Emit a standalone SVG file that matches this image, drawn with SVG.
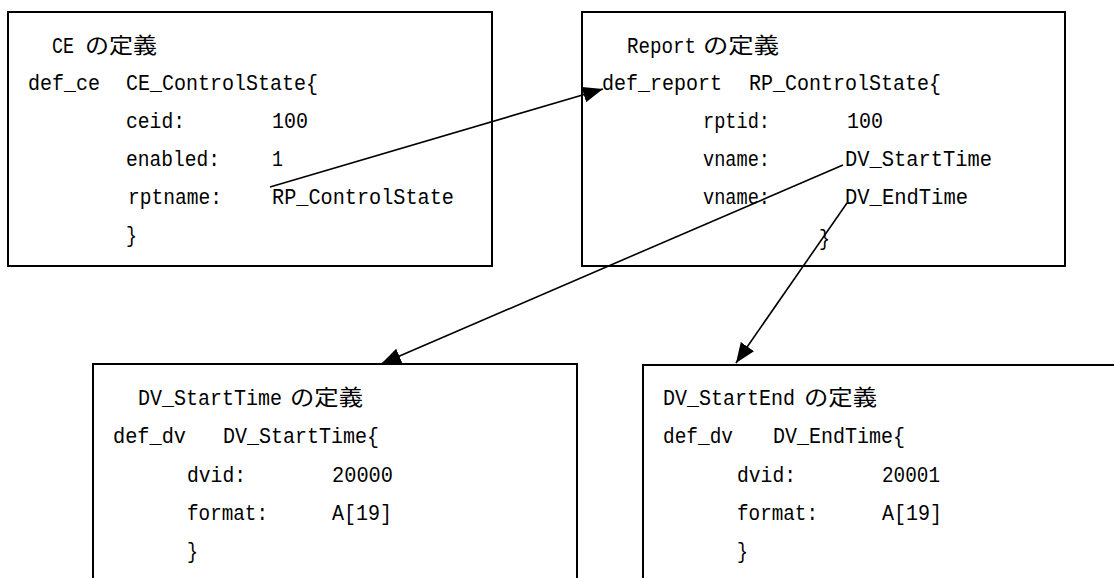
<svg xmlns="http://www.w3.org/2000/svg" width="1114" height="578" viewBox="0 0 1114 578">
<defs>
<style>
.box{fill:#fff;stroke:#000;stroke-width:2}
.t{font-family:"Liberation Mono","Noto Sans CJK JP",monospace;font-size:22px;fill:#000}
.j{font-family:"Noto Sans CJK JP",sans-serif;font-size:22px;fill:#000}
.c{stroke:#000;stroke-width:1.6;fill:none;marker-end:url(#ah)}
</style>
<marker id="ah" markerUnits="userSpaceOnUse" markerWidth="22" markerHeight="18" refX="20" refY="8" orient="auto">
<path d="M0,0 L20,8 L0,16 z" fill="#000"/>
</marker>
</defs>
<rect width="1114" height="578" fill="#fff"/>
<g id="ce">
<rect class="box" x="8" y="12" width="484" height="254"/>
<text x="52" y="53"><tspan class="t" textLength="22" lengthAdjust="spacingAndGlyphs">CE</tspan><tspan class="j" x="85" textLength="72" lengthAdjust="spacingAndGlyphs">の定義</tspan></text>
<text class="t" x="28" y="90" textLength="72" lengthAdjust="spacingAndGlyphs">def_ce</text>
<text class="t" x="126" y="90" textLength="192" lengthAdjust="spacingAndGlyphs">CE_ControlState{</text>
<text class="t" x="126" y="128" textLength="59" lengthAdjust="spacingAndGlyphs">ceid:</text>
<text class="t" x="272" y="128" textLength="36" lengthAdjust="spacingAndGlyphs">100</text>
<text class="t" x="126" y="166" textLength="94" lengthAdjust="spacingAndGlyphs">enabled:</text>
<text class="t" x="272" y="166" textLength="11" lengthAdjust="spacingAndGlyphs">1</text>
<text class="t" x="128" y="204" textLength="94" lengthAdjust="spacingAndGlyphs">rptname:</text>
<text class="t" x="272" y="204" textLength="182" lengthAdjust="spacingAndGlyphs">RP_ControlState</text>
<text class="t" x="126" y="242" textLength="11" lengthAdjust="spacingAndGlyphs">}</text>
</g>
<g id="report">
<rect class="box" x="582" y="12" width="483" height="254"/>
<text x="627" y="53"><tspan class="t" textLength="69" lengthAdjust="spacingAndGlyphs">Report</tspan><tspan class="j" x="703" textLength="76" lengthAdjust="spacingAndGlyphs">の定義</tspan></text>
<text class="t" x="602" y="90" textLength="120" lengthAdjust="spacingAndGlyphs">def_report</text>
<text class="t" x="749" y="90" textLength="192" lengthAdjust="spacingAndGlyphs">RP_ControlState{</text>
<text class="t" x="703" y="128" textLength="67" lengthAdjust="spacingAndGlyphs">rptid:</text>
<text class="t" x="847" y="128" textLength="36" lengthAdjust="spacingAndGlyphs">100</text>
<text class="t" x="703" y="166" textLength="67" lengthAdjust="spacingAndGlyphs">vname:</text>
<text class="t" x="845" y="166" textLength="147" lengthAdjust="spacingAndGlyphs">DV_StartTime</text>
<text class="t" x="703" y="204" textLength="67" lengthAdjust="spacingAndGlyphs">vname:</text>
<text class="t" x="845" y="204" textLength="123" lengthAdjust="spacingAndGlyphs">DV_EndTime</text>
<text class="t" x="819" y="245" textLength="11" lengthAdjust="spacingAndGlyphs">}</text>
</g>
<g id="dv_start">
<rect class="box" x="93" y="364" width="484" height="240"/>
<text x="138" y="405"><tspan class="t" textLength="144" lengthAdjust="spacingAndGlyphs">DV_StartTime</tspan><tspan class="j" x="290" textLength="73" lengthAdjust="spacingAndGlyphs">の定義</tspan></text>
<text class="t" x="113" y="443" textLength="73" lengthAdjust="spacingAndGlyphs">def_dv</text>
<text class="t" x="223" y="443" textLength="156" lengthAdjust="spacingAndGlyphs">DV_StartTime{</text>
<text class="t" x="187" y="482" textLength="59" lengthAdjust="spacingAndGlyphs">dvid:</text>
<text class="t" x="332" y="482" textLength="61" lengthAdjust="spacingAndGlyphs">20000</text>
<text class="t" x="187" y="520" textLength="81" lengthAdjust="spacingAndGlyphs">format:</text>
<text class="t" x="332" y="520" textLength="60" lengthAdjust="spacingAndGlyphs">A[19]</text>
<text class="t" x="187" y="558" textLength="11" lengthAdjust="spacingAndGlyphs">}</text>
</g>
<g id="dv_end">
<rect class="box" x="643" y="365" width="500" height="240"/>
<text x="663" y="405"><tspan class="t" textLength="132" lengthAdjust="spacingAndGlyphs">DV_StartEnd</tspan><tspan class="j" x="804" textLength="73" lengthAdjust="spacingAndGlyphs">の定義</tspan></text>
<text class="t" x="663" y="443" textLength="70" lengthAdjust="spacingAndGlyphs">def_dv</text>
<text class="t" x="773" y="443" textLength="132" lengthAdjust="spacingAndGlyphs">DV_EndTime{</text>
<text class="t" x="737" y="482" textLength="59" lengthAdjust="spacingAndGlyphs">dvid:</text>
<text class="t" x="882" y="482" textLength="58" lengthAdjust="spacingAndGlyphs">20001</text>
<text class="t" x="737" y="520" textLength="81" lengthAdjust="spacingAndGlyphs">format:</text>
<text class="t" x="882" y="520" textLength="60" lengthAdjust="spacingAndGlyphs">A[19]</text>
<text class="t" x="737" y="558" textLength="11" lengthAdjust="spacingAndGlyphs">}</text>
</g>
<g id="connectors">
<line class="c" x1="270" y1="187" x2="603" y2="89"/>
<line class="c" x1="843" y1="165" x2="381" y2="364"/>
<line class="c" x1="847" y1="203" x2="736" y2="363"/>
</g>
</svg>
